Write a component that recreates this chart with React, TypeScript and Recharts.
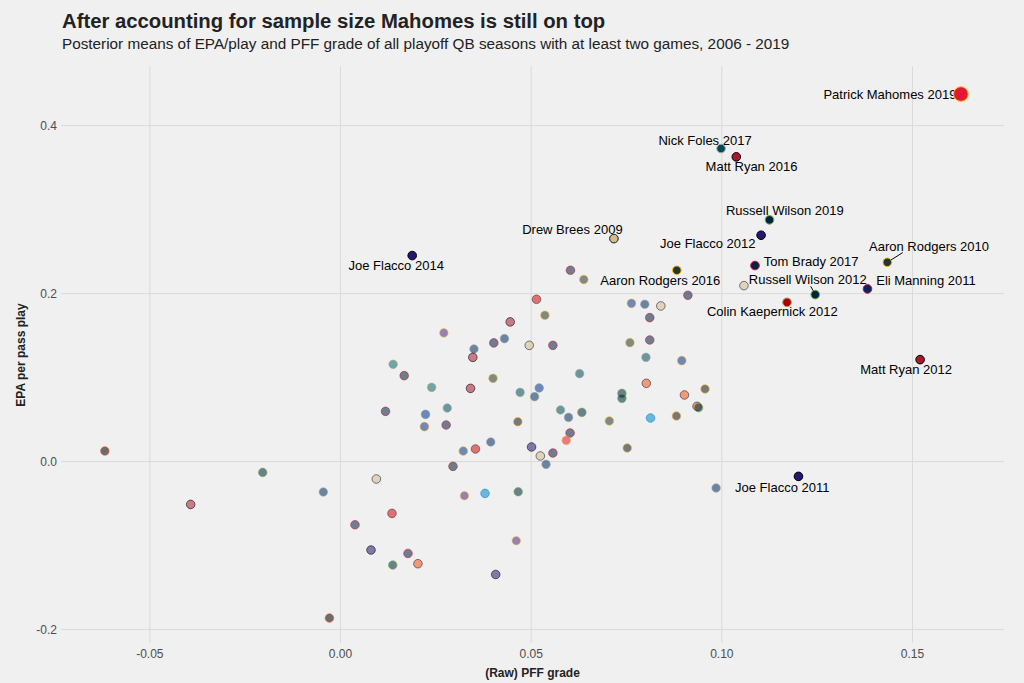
import React from "react";
import { ScatterChart, Scatter, XAxis, YAxis, CartesianGrid } from "recharts";

// ---------- DATA ----------
const labeledNames = [
  "Patrick Mahomes 2019", "Nick Foles 2017", "Matt Ryan 2016", "Russell Wilson 2019",
  "Joe Flacco 2012", "Drew Brees 2009", "Joe Flacco 2014", "Aaron Rodgers 2010",
  "Tom Brady 2017", "Aaron Rodgers 2016", "Russell Wilson 2012", "Eli Manning 2011",
  "Colin Kaepernick 2012", "Matt Ryan 2012", "Joe Flacco 2011",
];
const labeledTeams = ["KC", "PHI", "ATL", "SEA", "BAL", "NO", "BAL", "GB", "NE", "GB", "SEA", "NYG", "SF", "ATL", "BAL"];
const labeledGrade = [0.1627, 0.0998, 0.1038, 0.1125, 0.1103, 0.0717, 0.0188, 0.1434, 0.1087, 0.0882, 0.1245, 0.1382, 0.1171, 0.152, 0.1201];
const labeledEpa = [0.4376, 0.3727, 0.3628, 0.2878, 0.2695, 0.2655, 0.2453, 0.2373, 0.2334, 0.2278, 0.1988, 0.2056, 0.1896, 0.1214, -0.0176];

const otherTeams = [
  "CIN", "SEA", "IND", "ATL", "NE", "GB", "TB", "GB", "ATL", "MIN",
  "NE", "IND", "IND", "ATL", "NO", "NE", "PHI", "JAX", "HOU", "JAX",
  "ATL", "GB", "PHI", "DAL", "IND", "PHI", "IND", "SEA", "NE", "DAL",
  "PHI", "LAR", "NE", "PIT", "NE", "KC", "IND", "LAR", "TB", "BAL",
  "NO", "NE", "IND", "HOU", "NO", "MIN", "CAR", "SEA", "MIN", "BAL",
  "TB", "NE", "BAL", "NE", "SEA", "DEN", "CIN", "NO", "NE", "LAR",
  "IND", "NO", "NE", "GB", "NE", "PHI", "LAR", "DEN", "PIT", "DEN",
  "SEA", "SEA", "DEN", "SEA", "CAR", "PIT", "GB", "PIT", "IND",
];
const otherGrade = [
  -0.0618, -0.0204, -0.0045, -0.0393, 0.0603, 0.0638, 0.0514, 0.0536, 0.0445, 0.0271,
  0.0402, 0.043, 0.035, 0.0347, 0.0495, 0.0557, 0.0627, 0.0138, 0.0167, 0.0239,
  0.0341, 0.04, 0.0471, 0.0521, 0.0509, 0.0577, 0.0598, 0.0633, 0.0118, 0.0223,
  0.028, 0.022, 0.0277, 0.0465, 0.0602, 0.0592, 0.0394, 0.0322, 0.0354, 0.0501,
  0.0524, 0.0557, 0.0539, 0.0295, 0.0094, 0.0325, 0.0379, 0.0466, 0.0461, 0.0407,
  0.0135, 0.0038, 0.008, 0.0177, 0.0137, 0.0203, -0.0029, 0.1058, 0.0911, 0.0763,
  0.0798, 0.084, 0.0811, 0.0759, 0.0811, 0.0801, 0.0895, 0.0802, 0.0956, 0.0902,
  0.0738, 0.0738, 0.0935, 0.0939, 0.0813, 0.0881, 0.0705, 0.0752, 0.0985,
];
const otherEpa = [
  0.0126, -0.0129, -0.0362, -0.051, 0.2278, 0.2167, 0.1932, 0.1742, 0.1663, 0.1532,
  0.1413, 0.1464, 0.1341, 0.1241, 0.1384, 0.1384, 0.1047, 0.1158, 0.1023, 0.0884,
  0.0872, 0.0991, 0.0824, 0.0877, 0.0773, 0.0615, 0.0526, 0.0586, 0.0598, 0.0562,
  0.0638, 0.0416, 0.0436, 0.0475, 0.0341, 0.0253, 0.0233, 0.0126, 0.015, 0.0174,
  0.0067, 0.0102, -0.0033, -0.0057, -0.0207, -0.0406, -0.0379, -0.0359, -0.0942, -0.1344,
  -0.0617, -0.0752, -0.1053, -0.1094, -0.1232, -0.1216, -0.1863, 0.2095, 0.198, 0.1884,
  0.1873, 0.1853, 0.1714, 0.1416, 0.1448, 0.1241, 0.1202, 0.0932, 0.0865, 0.0793,
  0.0812, 0.0753, 0.0658, 0.0642, 0.0519, 0.0543, 0.0484, 0.0162, -0.0314,
];

const xTicks = [-0.05, 0, 0.05, 0.1, 0.15];
const yTicks = [-0.2, 0, 0.2, 0.4];
const xDomain = [-0.0733, 0.174];
const yDomain = [-0.216, 0.471];

// ---------- STYLE TABLES ----------
const teamFill: Record<string, string> = {
  CIN: "#000000", SEA: "#002244", IND: "#002C5F", ATL: "#A71930", NE: "#002244",
  GB: "#203731", TB: "#D50A0A", MIN: "#4F2683", NO: "#D3BC8D", PHI: "#004C54",
  JAX: "#006778", HOU: "#03202F", DAL: "#003594", LAR: "#003594", PIT: "#101820",
  KC: "#E31837", BAL: "#241773", CAR: "#0085CA", DEN: "#FB4F14", NYG: "#0B2265",
  SF: "#AA0000",
};
const teamStroke: Record<string, string> = {
  CIN: "#FB4F14", SEA: "#69BE28", IND: "#A2AAAD", ATL: "#000000", NE: "#C60C30",
  GB: "#FFB612", TB: "#34302B", MIN: "#FFC62F", NO: "#101820", PHI: "#A5ACAF",
  JAX: "#D7A22A", HOU: "#A71930", DAL: "#869397", LAR: "#FFA300", PIT: "#FFB612",
  KC: "#FFB612", BAL: "#000000", CAR: "#0085CA", DEN: "#002244", NYG: "#A71930",
  SF: "#B3995D",
};
// label layout (offset of label centre from the point, in px)
const labelDx = [-4.5, -16, 15.2, 15.3, -53.3, -41.5, -16, 41.7, 56.2, -16.5, -7.5, 58.5, -14.7, -14, -16.2];
const labelDy = [0, -8.3, 10, -9.6, 8.6, -9, 10, -16, -3.7, 10.6, -14.7, -8, 9.6, 10, 11];
const labelAnchor = ["end", "middle", "middle", "middle", "middle", "middle", "middle", "middle", "middle", "middle", "middle", "middle", "middle", "middle", "middle"];
const leaderFrom: (number[] | null)[] = [null, null, null, null, null, null, null, [0, 0], null, null, [-4.6, -8.3], null, null, null, null];
const leaderTo: (number[] | null)[] = [null, null, null, null, null, null, null, [15.4, -9.7], null, null, [-0.5, -1.5], null, null, null, null];

const otherData = otherTeams.map((t, i) => ({ team: t, x: otherGrade[i], y: otherEpa[i] }));
const labeledData = labeledNames.map((n, i) => ({ idx: i, name: n, team: labeledTeams[i], x: labeledGrade[i], y: labeledEpa[i] }));

const FONT = "'Liberation Sans', Arial, Helvetica, sans-serif";

const OtherDot = (props: any) => {
  const { cx, cy, payload } = props;
  if (cx == null || cy == null) return null;
  return (
    <circle cx={cx} cy={cy} r={4.3} fill={teamFill[payload.team]} fillOpacity={0.55}
      stroke={teamStroke[payload.team]} strokeOpacity={0.55} strokeWidth={1} />
  );
};

const LabeledDot = (props: any) => {
  const { cx, cy, payload } = props;
  if (cx == null || cy == null) return null;
  const i = payload.idx;
  const big = i === 0;
  const lf = leaderFrom[i];
  const lt = leaderTo[i];
  return (
    <g>
      {lf && lt ? (
        <line x1={cx + lf[0]} y1={cy + lf[1]} x2={cx + lt[0]} y2={cy + lt[1]} stroke="#000" strokeWidth={1} />
      ) : null}
      <text x={cx + labelDx[i]} y={cy + labelDy[i]} textAnchor={labelAnchor[i] as any}
        dominantBaseline="central" fontSize={13} fontFamily={FONT} fill="#000">
        {payload.name}
      </text>
      <circle cx={cx} cy={cy} r={big ? 7.3 : 4.3} fill={teamFill[payload.team]}
        stroke={teamStroke[payload.team]} strokeWidth={1} />
    </g>
  );
};

const applyScale = (s: any, t: number): number | null => {
  if (!s) return null;
  if (typeof s === "function") return s(t);
  if (typeof s.map === "function") return s.map(t);
  if (typeof s.scale === "function") return s.scale(t);
  return null;
};

const hGen = (p: any) => {
  const out = yTicks.map((t) => applyScale(p?.yAxis?.scale, t));
  if (out.every((v) => typeof v === "number" && isFinite(v as number))) return out as number[];
  const o = p?.offset || {};
  return yTicks.map((t) => o.top + (o.height * (yDomain[1] - t)) / (yDomain[1] - yDomain[0]));
};
const vGen = (p: any) => {
  const out = xTicks.map((t) => applyScale(p?.xAxis?.scale, t));
  if (out.every((v) => typeof v === "number" && isFinite(v as number))) return out as number[];
  const o = p?.offset || {};
  return xTicks.map((t) => o.left + (o.width * (t - xDomain[0])) / (xDomain[1] - xDomain[0]));
};

export default function App() {
  return (
    <div style={{ position: "absolute", left: 0, top: 0, width: 1024, height: 683, background: "#F0F0F0", fontFamily: FONT }}>
      <ScatterChart width={1024} height={683} margin={{ top: 66, right: 20, bottom: 0, left: 0 }}>
        <CartesianGrid stroke="#DADADA" strokeWidth={1}
          horizontalCoordinatesGenerator={hGen} verticalCoordinatesGenerator={vGen} />
        <XAxis type="number" dataKey="x" domain={xDomain} allowDataOverflow ticks={xTicks}
          tickFormatter={(v: number) => v.toFixed(2)} axisLine={false} tickLine={false}
          tickSize={4} tickMargin={2} height={40}
          tick={{ fill: "#4D4D4D", fontSize: 12, fontFamily: FONT }} interval={0} />
        <YAxis type="number" dataKey="y" domain={yDomain} allowDataOverflow ticks={yTicks}
          tickFormatter={(v: number) => v.toFixed(1)} axisLine={false} tickLine={false}
          tickSize={2} tickMargin={2} width={61}
          tick={{ fill: "#4D4D4D", fontSize: 12, fontFamily: FONT }} interval={0} />
        <Scatter data={otherData} shape={OtherDot} isAnimationActive={false} />
        <Scatter data={labeledData} shape={LabeledDot} isAnimationActive={false} />
      </ScatterChart>
      <svg width={1024} height={683} style={{ position: "absolute", left: 0, top: 0, pointerEvents: "none" }}>
        <text x={62} y={28} fontSize={20.3} fontWeight="bold" fill="#222" fontFamily={FONT}>
          After accounting for sample size Mahomes is still on top
        </text>
        <text x={62} y={49} fontSize={15.3} fill="#222" fontFamily={FONT}>
          Posterior means of EPA/play and PFF grade of all playoff QB seasons with at least two games, 2006 - 2019
        </text>
        <text x={532.5} y={677} fontSize={12} fontWeight="bold" fill="#222" textAnchor="middle" fontFamily={FONT}>
          (Raw) PFF grade
        </text>
        <text x={0} y={0} transform="translate(25,355) rotate(-90)" fontSize={12} fontWeight="bold" fill="#222"
          textAnchor="middle" fontFamily={FONT}>
          EPA per pass play
        </text>
      </svg>
    </div>
  );
}
